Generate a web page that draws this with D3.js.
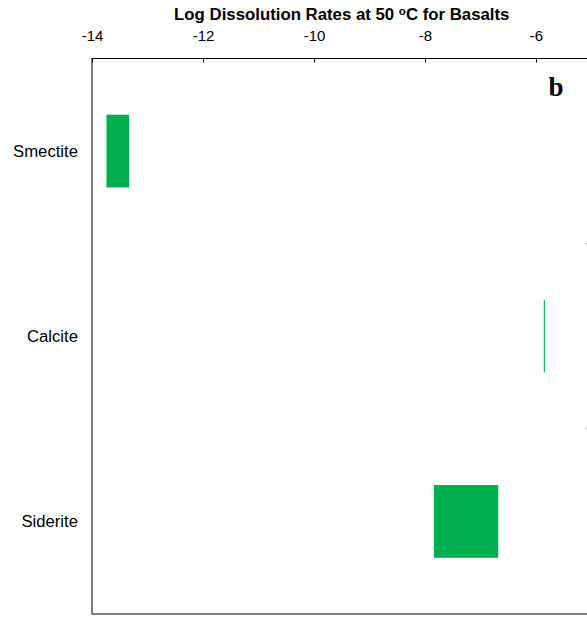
<!DOCTYPE html>
<html>
<head>
<meta charset="utf-8">
<script src="https://cdn.jsdelivr.net/npm/d3@7"></script>
<style>
  html, body { margin: 0; padding: 0; background: #fff; }
  svg { display: block; }
</style>
</head>
<body>
<svg id="chart" width="587" height="617"></svg>
<script>
// Minerals and their log dissolution rate ranges (mol m-2 s-1) at 50 °C
const minerals = ["Smectite", "Calcite", "Siderite"];
const rateMin = [-13.74, -5.86, -7.84];
const rateMax = [-13.33, -5.84, -6.68];
const xTicks = [-14, -12, -10, -8, -6];

const svg = d3.select("#chart");
const plotLeft = 92, plotRight = 591.5, plotTop = 58.5, plotBottom = 614;

const x = d3.scaleLinear().domain([-14, -5]).range([plotLeft, plotRight]);
const y = d3.scaleBand().domain(minerals).range([plotTop, plotBottom]).padding(0);
const barH = y.bandwidth() * 0.393;

// Bars: one per mineral, spanning the rate range
svg.append("g").selectAll("rect")
  .data(minerals)
  .join("rect")
  .attr("x", (d, i) => x(rateMin[i]))
  .attr("width", (d, i) => x(rateMax[i]) - x(rateMin[i]))
  .attr("y", d => y(d) + (y.bandwidth() - barH) / 2)
  .attr("height", barH)
  .attr("fill", "#00B050");

// Plot frame
svg.append("rect")
  .attr("x", plotLeft).attr("y", plotTop)
  .attr("width", plotRight - plotLeft).attr("height", plotBottom - plotTop)
  .attr("fill", "none").attr("stroke", "#000").attr("stroke-width", 1);

// Top axis with inward ticks
const xAxis = svg.append("g")
  .attr("transform", `translate(0,${plotTop})`)
  .call(d3.axisTop(x).tickValues(xTicks).tickSize(-4).tickPadding(18).tickFormat(d3.format("d")));
xAxis.select(".domain").remove();
xAxis.selectAll("line").attr("stroke", "#000");
xAxis.selectAll("text")
  .attr("font-family", "Liberation Sans, Arial, sans-serif")
  .attr("font-size", 15)
  .attr("fill", "#000")
  .text(d => String(d).replace("\u2212", "-"));

// Right axis: inward ticks at the category boundaries
const bounds = minerals.slice(1).map(d => y(d));
svg.append("g").selectAll("line")
  .data(bounds)
  .join("line")
  .attr("x1", plotRight - 5).attr("x2", plotRight)
  .attr("y1", d => d).attr("y2", d => d)
  .attr("stroke", "#000");

// Category labels
svg.append("g").selectAll("text")
  .data(minerals)
  .join("text")
  .attr("x", plotLeft - 14)
  .attr("y", d => y(d) + y.bandwidth() / 2)
  .attr("dy", "0.35em")
  .attr("text-anchor", "end")
  .attr("font-family", "Liberation Sans, Arial, sans-serif")
  .attr("font-size", 16.7)
  .attr("fill", "#000")
  .text(d => d);

// Title
const title = svg.append("text")
  .attr("x", (plotLeft + plotRight) / 2)
  .attr("y", 19.5)
  .attr("text-anchor", "middle")
  .attr("font-family", "Liberation Sans, Arial, sans-serif")
  .attr("font-size", 16.8)
  .attr("font-weight", "bold")
  .attr("fill", "#000");
title.append("tspan").text("Log Dissolution Rates at 50 ");
title.append("tspan").attr("font-size", 11.5).attr("dy", -5).text("o");
title.append("tspan").attr("dy", 5).text("C for Basalts");

// Panel letter
svg.append("text")
  .attr("x", 556)
  .attr("y", 96)
  .attr("text-anchor", "middle")
  .attr("font-family", "Liberation Serif, Times New Roman, serif")
  .attr("font-size", 27)
  .attr("font-weight", "bold")
  .attr("fill", "#000")
  .text("b");
</script>
</body>
</html>
